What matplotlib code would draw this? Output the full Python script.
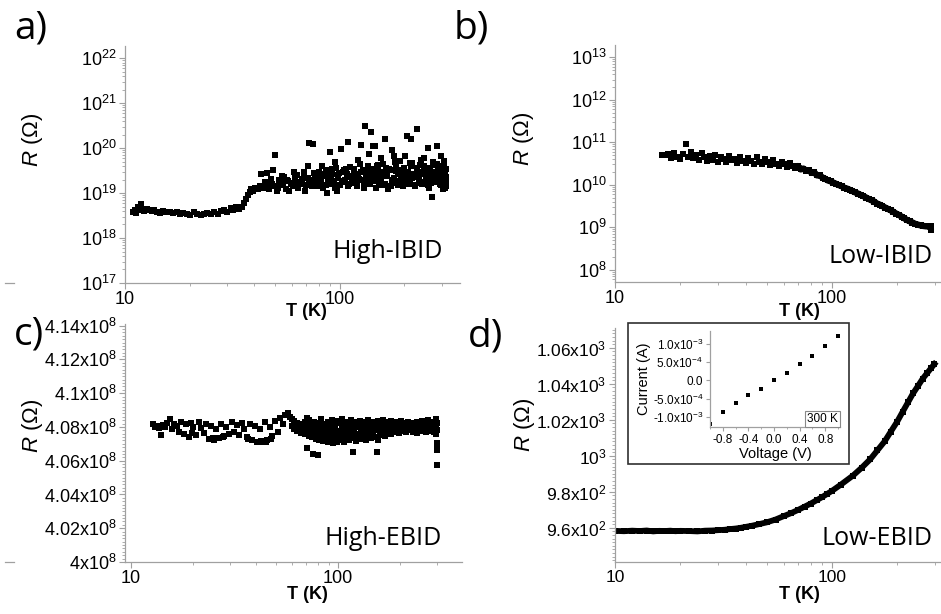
import matplotlib
matplotlib.use("Agg")
import matplotlib.pyplot as plt
from matplotlib.ticker import LogLocator, MultipleLocator, NullFormatter
from matplotlib.patches import Rectangle
from matplotlib.lines import Line2D
import numpy as np

plt.rcParams['font.family'] = ['Liberation Sans', 'DejaVu Sans']
plt.rcParams['mathtext.fontset'] = 'custom'
plt.rcParams['mathtext.rm'] = 'Liberation Sans'
plt.rcParams['mathtext.it'] = 'Liberation Sans:italic'
plt.rcParams['mathtext.bf'] = 'Liberation Sans:bold'

# ---- a) High-IBID : T (K), R (Ohm)
T_a = [10.9, 11.1, 11.3, 11.5, 11.7, 11.9, 12.1, 12.3, 12.6, 12.9, 13.3, 13.7, 14.1, 14.6,
       15.1, 15.6, 16.2, 16.8, 17.4, 18.0, 18.7, 19.4, 20.1, 20.9, 21.7, 22.5, 23.3, 24.2,
       25.1, 26.0, 27.0, 28.0, 29.0, 30.0, 31.0, 32.0, 33.0, 34.0,
       35.0, 35.8, 36.5, 37.2, 38.0, 38.8, 39.5, 40.5, 41.5, 42.5,
       44, 45.5, 47, 48.5, 50, 51.5, 53, 54.5, 56, 57.5, 59, 60.5, 62, 64, 66, 68, 70, 72, 74,
       76, 78, 80, 82, 84, 86, 88, 90, 92, 94, 96, 98, 100, 103, 106, 109, 112, 115, 118, 121,
       124, 127, 130, 133, 136, 139, 142, 145, 148, 151, 154, 157, 160, 164, 168, 172, 176,
       180, 184, 188, 192, 196, 200, 205, 210, 215, 220, 225, 230, 235, 240, 245, 250, 255,
       260, 265, 270, 275, 280, 285, 290, 295, 300, 305, 310,
       43, 46, 49, 50, 52, 55, 58, 61, 63, 67, 69, 71, 72, 75, 77, 81, 83, 85, 87, 90, 91, 93,
       95, 97, 99, 101, 104, 107, 109, 110, 116, 119, 122, 125, 128, 131, 134, 137, 140, 143,
       146, 149, 152, 155, 158, 163, 165, 176, 178, 182, 186, 190, 194, 198, 202, 205, 207,
       212, 215, 217, 230, 232, 237, 242, 247, 252, 257, 262, 267, 272, 277, 283, 287, 292,
       297, 302, 307, 312, 309, 306, 303, 298,
       45, 48, 51, 54, 57, 60, 63, 65, 68, 71, 74, 77, 80, 83, 86, 89, 92, 95, 98, 102, 105,
       108, 111, 114, 117, 120, 123, 126, 129, 132, 135, 138, 141, 144, 147, 150, 153, 156,
       159, 162, 166, 170, 174, 178, 182, 186, 190, 194, 198, 203, 208, 213, 218, 223, 228,
       233, 238, 243, 248, 253, 258, 263, 268, 273, 278, 283, 288, 293, 298, 303, 308, 311,
       311, 311]
R_a = [3.7e18, 4.2e18, 3.6e18, 4.8e18, 4.1e18, 5.8e18, 4.5e18, 3.9e18, 4.4e18, 4.3e18,
       4.0e18, 4.3e18, 3.8e18, 3.6e18, 3.9e18, 3.7e18, 3.8e18, 3.6e18, 3.7e18, 3.5e18,
       3.6e18, 3.4e18, 3.3e18, 3.8e18, 3.4e18, 3.2e18, 3.5e18, 3.6e18, 3.4e18, 3.7e18,
       3.5e18, 3.9e18, 4.3e18, 3.8e18, 4.6e18, 4.2e18, 4.8e18, 4.4e18,
       5.0e18, 6.0e18, 7.5e18, 9.0e18, 1.05e19, 1.2e19, 1.1e19, 1.3e19, 1.25e19, 1.4e19,
       1.3e19, 1.5e19, 1.2e19, 1.6e19, 1.4e19, 1.3e19, 1.7e19, 1.5e19, 1.2e19, 1.9e19,
       1.6e19, 1.4e19, 2.2e19, 1.3e19, 1.8e19, 2.5e19, 1.5e19, 2.0e19, 1.7e19, 2.8e19,
       1.4e19, 2.3e19, 1.9e19, 1.3e19, 3.2e19, 2.1e19, 1.6e19, 2.6e19, 1.8e19, 3.6e19,
       2.2e19, 1.5e19, 2.9e19, 2.0e19, 1.4e19, 3.8e19, 2.4e19, 1.7e19, 2.7e19, 4.5e19,
       2.0e19, 1.3e19, 3.1e19, 2.3e19, 1.6e19, 3.5e19, 2.6e19, 1.9e19, 4.2e19, 2.2e19,
       1.5e19, 3.0e19, 2.4e19, 1.2e19, 3.3e19, 2.0e19, 4.8e19, 1.7e19, 2.9e19, 2.2e19,
       1.4e19, 3.7e19, 2.5e19, 1.9e19, 4.0e19, 2.7e19, 1.5e19, 3.2e19, 2.1e19, 5.5e19,
       1.8e19, 2.6e19, 3.6e19, 1.3e19, 2.3e19, 8.0e18, 3.0e19, 1.9e19, 4.4e19, 2.4e19,
       1.5e19, 3.3e19, 2.0e19, 2.7e19,
       2.6e19, 2.8e19, 3.2e19, 7.0e19, 2.0e19, 2.3e19, 1.1e19, 3.0e19, 1.7e19, 2.1e19,
       1.1e19, 4.0e19, 1.3e20, 1.25e20, 2.5e19, 1.6e19, 3.9e19, 2.7e19, 1.0e19, 8.3e19,
       2.4e19, 1.9e19, 4.8e19, 1.1e19, 2.8e19, 9.5e19, 1.8e19, 3.4e19, 1.4e20, 2.3e19,
       2.9e19, 1.8e19, 5.5e19, 1.2e20, 3.3e19, 3.1e20, 2.5e19, 7.5e19, 2.3e20, 1.1e20,
       1.1e20, 3.9e19, 1.7e19, 6.0e19, 2.8e19, 1.6e20, 3.7e19, 9.0e19, 6.5e19, 3.1e19,
       1.5e19, 5.2e19, 2.7e19, 1.8e19, 6.8e19, 1.9e20, 3.0e19, 1.6e19, 1.6e20, 4.6e19,
       2.6e20, 2.3e19, 4.2e19, 1.6e19, 6.0e19, 2.1e19, 1.0e20, 3.1e19, 1.7e19, 5.0e19,
       2.4e19, 1.1e20, 3.0e19, 1.6e19, 6.5e19, 2.2e19, 3.9e19, 1.8e19, 1.3e19, 5.2e19,
       1.2e19, 2.5e19,
       1.8e19, 2.1e19, 1.1e19, 2.4e19, 2.0e19, 1.7e19, 2.5e19, 1.6e19, 2.9e19, 2.2e19,
       1.4e19, 2.0e19, 3.0e19, 2.4e19, 1.5e19, 2.3e19, 3.4e19, 1.3e19, 2.5e19, 1.9e19,
       3.2e19, 2.6e19, 1.6e19, 2.2e19, 3.5e19, 1.4e19, 2.1e19, 3.0e19, 1.7e19, 2.4e19,
       4.0e19, 1.8e19, 2.8e19, 2.1e19, 1.3e19, 3.4e19, 2.5e19, 2.0e19, 4.4e19, 1.6e19,
       2.6e19, 3.5e19, 1.4e19, 2.2e19, 4.1e19, 2.7e19, 1.9e19, 3.3e19, 2.4e19, 1.6e19,
       2.9e19, 4.6e19, 2.2e19, 1.4e19, 3.6e19, 2.6e19, 1.7e19, 2.9e19, 4.0e19, 2.2e19,
       1.5e19, 3.3e19, 2.5e19, 4.3e19, 1.8e19, 2.7e19, 3.5e19, 2.1e19, 4.0e19, 2.8e19,
       1.7e19, 2.3e19, 3.5e19, 1.4e19]

# ---- b) Low-IBID
T_b = [16.4, 17.0, 17.6, 18.2, 18.8, 19.4, 20.0, 20.6, 21.2, 21.8, 22.4, 23.0, 23.7, 24.4,
       25.1, 25.8, 26.6, 27.4, 28.2, 29.0, 29.9, 30.8, 31.7, 32.6, 33.6, 34.6, 35.6, 36.7,
       37.8, 38.9, 40.0, 41.2, 42.4, 43.7, 45.0, 46.3, 47.7, 49.1, 50.6, 52.1, 53.7, 55.3,
       57.0, 58.7, 60.4, 62.2, 64.0, 65.9,
       67.8, 69.8, 71.8, 73.9, 76.1, 78.3, 80.6, 83.0, 85.4, 87.9, 90.5, 93.1, 95.9, 98.7,
       101.6, 104.5, 107.6, 110.8, 114.0, 117.4, 120.8, 124.4, 128.0, 131.8, 135.7, 139.6,
       143.7, 148.0, 152.3, 156.8, 161.4, 166.1, 171.0, 176.0, 181.2, 186.5, 192.0, 197.6,
       203.4, 209.4, 215.5, 221.9, 228.4, 235.1, 242.0, 249.1, 256.4, 263.9, 271.7, 279.6,
       285.0, 286.0]
R_b = [5.1e10, 5.0e10, 5.4e10, 4.2e10, 5.6e10, 4.6e10, 4.1e10, 5.3e10, 8.9e10, 4.4e10,
       5.9e10, 4.3e10, 5.0e10, 3.9e10, 5.5e10, 4.5e10, 3.6e10, 4.8e10, 3.8e10, 4.9e10,
       3.5e10, 4.6e10, 4.0e10, 3.4e10, 4.7e10, 3.9e10, 4.1e10, 3.2e10, 4.5e10, 3.7e10,
       3.3e10, 4.3e10, 3.6e10, 3.0e10, 4.4e10, 3.5e10, 3.1e10, 4.0e10, 3.4e10, 2.9e10,
       3.8e10, 3.1e10, 2.8e10, 3.5e10, 3.0e10, 2.6e10, 3.2e10, 2.7e10,
       2.5e10, 2.75e10, 2.3e10, 2.4e10, 2.15e10, 2.2e10, 1.9e10, 1.95e10, 1.66e10, 1.66e10,
       1.48e10, 1.38e10, 1.26e10, 1.2e10, 1.12e10, 1.05e10, 9.8e9, 9.3e9, 8.5e9, 8.1e9,
       7.6e9, 7.1e9, 6.6e9, 6.2e9, 5.75e9, 5.4e9, 5.0e9, 4.6e9, 4.3e9, 4.0e9, 3.6e9, 3.4e9,
       3.15e9, 2.9e9, 2.7e9, 2.5e9, 2.3e9, 2.1e9, 1.95e9, 1.78e9, 1.62e9, 1.48e9, 1.38e9,
       1.29e9, 1.2e9, 1.15e9, 1.1e9, 1.07e9, 1.05e9, 1.05e9, 1.05e9, 8.7e8]

# ---- c) High-EBID (R in units of 1e8 Ohm)
T_c = [12.8, 13.1, 13.4, 13.7, 14.0, 14.3, 14.6, 15.0, 15.4, 15.8, 16.2, 16.6, 17.0, 17.5,
       18.0, 18.5, 19.0, 19.5, 20.0, 20.6, 21.2, 21.8, 22.4, 23.0, 23.7, 24.4, 25.1, 25.8,
       26.5, 27.3, 28.1, 28.9, 29.7, 30.6, 31.5, 32.4, 33.3, 34.3, 35.3, 36.3, 37.4, 38.5,
       39.6, 40.7, 41.9, 43.1, 44.3, 45.6, 46.9, 48.2, 49.6, 51.0, 52.5, 54.0, 55.5, 57.0,
       58.5,
       60, 61.5, 63, 64.5, 66, 67.5, 69, 70.5, 72, 73.5, 75, 76.5, 78, 79.5, 81, 83, 85, 87,
       89, 91, 93, 95, 97, 99, 101, 104, 107, 110, 113, 116, 119, 122, 125, 128, 131, 134,
       137, 140, 144, 148, 152, 156, 160, 164, 168, 172, 176, 181, 186, 191, 196, 201, 206,
       212, 218, 224, 230, 236, 242, 248, 254, 260, 266, 272, 278, 284, 290, 294, 297, 300,
       60, 61.5, 63, 64.5, 66, 67.5, 69, 70.5, 72, 73.5, 75, 76.5, 78, 79.5, 81, 83, 85, 87,
       89, 91, 93, 95, 97, 99, 101, 104, 107, 110, 113, 116, 119, 122, 125, 128, 131, 134,
       137, 140, 144, 148, 152, 156, 160, 164, 168, 172, 176, 181, 186, 191, 196, 201, 206,
       212, 218, 224, 230, 236, 242, 248, 254, 260, 266, 272, 278, 284, 290, 294, 297, 300,
       62, 65, 68, 71, 74, 77, 80, 84, 88, 92, 96, 100, 105, 110, 115, 120, 126, 132, 138,
       145, 152, 160, 168, 177, 186, 196, 206, 217, 228, 240, 252, 264, 276, 288, 298,
       63, 67, 71, 75, 79, 83, 87, 91, 95, 99, 103, 108, 113, 118, 123, 129, 135, 141, 147,
       154, 161, 169, 177, 185, 194, 203, 213, 223, 234, 245, 256, 268, 280, 292,
       19.8, 24.8, 27.8, 36.8, 42.5, 44.9, 47.5,
       71, 75.9, 80.3, 118.6, 155, 300, 300, 300, 299]
R_c = [4.0815, 4.0800, 4.0808, 4.0793, 4.0752, 4.0812, 4.0798, 4.0825, 4.0848, 4.0790,
       4.0820, 4.0805, 4.0772, 4.0830, 4.0760, 4.0815, 4.0742, 4.0822, 4.0800, 4.0752,
       4.0828, 4.0795, 4.0765, 4.0818, 4.0730, 4.0808, 4.0722, 4.0790, 4.0735, 4.0815,
       4.0748, 4.0800, 4.0760, 4.0830, 4.0770, 4.0812, 4.0752, 4.0825, 4.0785, 4.0740,
       4.0818, 4.0725, 4.0805, 4.0712, 4.0790, 4.0708, 4.0828, 4.0722, 4.0800, 4.0745,
       4.0838, 4.0772, 4.0855, 4.0820, 4.0872, 4.0885, 4.0860,
       4.0848, 4.0835, 4.0825, 4.0815, 4.0808, 4.0798, 4.0830, 4.0852, 4.0840, 4.0818,
       4.0805, 4.0832, 4.0812, 4.0800, 4.0825, 4.0845, 4.0815, 4.0802, 4.0828, 4.0810,
       4.0840, 4.0818, 4.0805, 4.0835, 4.0822, 4.0845, 4.0810, 4.0830, 4.0818, 4.0840,
       4.0808, 4.0828, 4.0815, 4.0838, 4.0812, 4.0832, 4.0820, 4.0842, 4.0815, 4.0828,
       4.0808, 4.0835, 4.0820, 4.0840, 4.0812, 4.0830, 4.0818, 4.0838, 4.0810, 4.0828,
       4.0815, 4.0835, 4.0820, 4.0805, 4.0832, 4.0815, 4.0825, 4.0810, 4.0830, 4.0818,
       4.0835, 4.0812, 4.0828, 4.0842, 4.0820, 4.0808, 4.0832, 4.0815, 4.0845, 4.0825,
       4.0805, 4.0790, 4.0775, 4.0782, 4.0765, 4.0772, 4.0758, 4.0760, 4.0748, 4.0765,
       4.0740, 4.0752, 4.0730, 4.0745, 4.0722, 4.0738, 4.0715, 4.0730, 4.0710, 4.0742,
       4.0718, 4.0705, 4.0735, 4.0712, 4.0748, 4.0725, 4.0710, 4.0738, 4.0720, 4.0752,
       4.0732, 4.0715, 4.0745, 4.0728, 4.0758, 4.0738, 4.0720, 4.0750, 4.0732, 4.0762,
       4.0742, 4.0725, 4.0755, 4.0770, 4.0748, 4.0765, 4.0780, 4.0758, 4.0772, 4.0785,
       4.0762, 4.0778, 4.0790, 4.0768, 4.0782, 4.0795, 4.0772, 4.0788, 4.0765, 4.0792,
       4.0775, 4.0785, 4.0770, 4.0795, 4.0778, 4.0788, 4.0772, 4.0790, 4.0760, 4.0780,
       4.0795, 4.0790, 4.0788, 4.0782, 4.0790, 4.0785, 4.0775, 4.0792, 4.0780, 4.0795,
       4.0788, 4.0778, 4.0798, 4.0785, 4.0792, 4.0780, 4.0800, 4.0788, 4.0795, 4.0785,
       4.0798, 4.0790, 4.0802, 4.0795, 4.0805, 4.0798, 4.0808, 4.0800, 4.0805, 4.0798,
       4.0810, 4.0802, 4.0808, 4.0800, 4.0805,
       4.0820, 4.0812, 4.0805, 4.0792, 4.0765, 4.0775, 4.0758, 4.0768, 4.0750, 4.0762,
       4.0770, 4.0755, 4.0768, 4.0775, 4.0760, 4.0772, 4.0765, 4.0778, 4.0770, 4.0782,
       4.0775, 4.0810, 4.0800, 4.0812, 4.0818, 4.0815, 4.0822, 4.0818, 4.0825, 4.0815,
       4.0822, 4.0818, 4.0825, 4.0815,
       4.0765, 4.0735, 4.0742, 4.0728, 4.0718, 4.0712, 4.0730,
       4.0675, 4.0638, 4.0632, 4.0652, 4.0650, 4.0690, 4.0665, 4.0576, 4.0705]

# ---- d) Low-EBID
T_d = [10, 11, 12, 13, 14, 15, 16, 17, 18, 19, 20, 22, 24, 26, 28, 30, 32, 34, 36, 38, 40,
       43, 46, 50, 55, 60, 65, 70, 75, 80, 85, 90, 95, 100, 110, 125, 137, 150, 162, 175,
       187, 200, 212, 225, 237, 250, 262, 275, 287, 297]
R_d = [958.3, 958.1, 958.4, 958.2, 958.5, 958.0, 958.3, 958.2, 958.4, 958.1, 958.3, 958.2,
       958.0, 958.4, 958.5, 958.7, 958.9, 959.3, 959.6, 960.0, 960.5, 961.2, 962.0, 963.0,
       964.6, 966.5, 968.2, 970.0, 971.8, 973.5, 975.3, 977.0, 978.8, 980.5, 984.0, 989.0,
       993.3, 998.0, 1003.0, 1008.0, 1013.5, 1019.0, 1024.5, 1030.0, 1034.8, 1039.0,
       1042.8, 1046.0, 1048.8, 1051.0]

# ---- d) inset I-V at 300 K
V_iv = [-1.0, -0.8, -0.6, -0.4, -0.2, 0.0, 0.2, 0.4, 0.6, 0.8, 1.0]
I_iv = [-1.19e-3, -0.86e-3, -0.62e-3, -0.41e-3, -0.22e-3, 0.0, 0.21e-3, 0.45e-3, 0.68e-3,
        0.95e-3, 1.20e-3]

c_yticks = [4.00e8, 4.02e8, 4.04e8, 4.06e8, 4.08e8, 4.10e8, 4.12e8, 4.14e8]
c_ylabels = ['4x10$^{8}$', '4.02x10$^{8}$', '4.04x10$^{8}$', '4.06x10$^{8}$',
             '4.08x10$^{8}$', '4.1x10$^{8}$', '4.12x10$^{8}$', '4.14x10$^{8}$']
d_yticks = [960, 980, 1000, 1020, 1040, 1060]
d_ylabels = ['9.6x10$^{2}$', '9.8x10$^{2}$', '10$^{3}$', '1.02x10$^{3}$',
             '1.04x10$^{3}$', '1.06x10$^{3}$']
iv_xticks = [-0.8, -0.4, 0.0, 0.4, 0.8]
iv_xlabels = ['-0.8', '-0.4', '0.0', '0.4', '0.8']
iv_yticks = [-1e-3, -5e-4, 0.0, 5e-4, 1e-3]
iv_ylabels = ['-1.0x10$^{-3}$', '-5.0x10$^{-4}$', '0.0', '5.0x10$^{-4}$', '1.0x10$^{-3}$']

GRAY = '#a0a0a0'
W, H = 941, 614


def box(l, t, r, b):
    return [l / W, 1 - b / H, (r - l) / W, (b - t) / H]


def style(ax, fs):
    for s in ['top', 'right']:
        ax.spines[s].set_visible(False)
    for s in ['left', 'bottom']:
        ax.spines[s].set_color(GRAY)
        ax.spines[s].set_linewidth(0.9)
    ax.tick_params(which='both', direction='out', color=GRAY, labelsize=fs, pad=2)
    ax.tick_params(which='major', length=4, width=0.8)
    ax.tick_params(which='minor', length=2, width=0.6)


def logx(ax, lo, hi):
    ax.set_xscale('log')
    ax.set_xlim(lo, hi)
    ax.set_xticks([10, 100], ['10', '100'])
    ax.xaxis.set_minor_locator(LogLocator(base=10, subs=range(2, 10)))
    ax.xaxis.set_minor_formatter(NullFormatter())


fig = plt.figure(figsize=(W / 100, H / 100), dpi=100)

ax_a = fig.add_axes(box(125, 46, 460, 283))
ax_b = fig.add_axes(box(615, 45, 940, 282))
ax_c = fig.add_axes(box(125, 324, 462, 562))
ax_d = fig.add_axes(box(615, 328, 940, 562))

mk = dict(ls='none', marker='s', ms=4.6, color='black', mew=0)

# a
ax_a.plot(T_a, R_a, **mk)
logx(ax_a, 10, 363)
ax_a.set_yscale('log')
ax_a.set_ylim(1e17, 10 ** 22.27)
ax_a.yaxis.set_major_locator(LogLocator(base=10, numticks=10))
ax_a.yaxis.set_minor_locator(LogLocator(base=10, subs=range(2, 10), numticks=20))
ax_a.yaxis.set_minor_formatter(NullFormatter())
style(ax_a, 13)

# b
T_b_arr, R_b_arr = np.array(T_b), np.array(R_b)
tail = T_b_arr >= 66
ax_b.plot(T_b_arr[tail], R_b_arr[tail], '-', color='black', lw=4.6, solid_capstyle='butt')
ax_b.plot(T_b, R_b, **mk)
logx(ax_b, 10, 315)
ax_b.set_yscale('log')
ax_b.set_ylim(10 ** 7.71, 10 ** 13.29)
ax_b.yaxis.set_major_locator(LogLocator(base=10, numticks=10))
ax_b.yaxis.set_minor_locator(LogLocator(base=10, subs=range(2, 10), numticks=20))
ax_b.yaxis.set_minor_formatter(NullFormatter())
style(ax_b, 13)

# c
ax_c.plot(T_c, np.array(R_c) * 1e8, **mk)
logx(ax_c, 9.35, 397)
ax_c.set_ylim(4.0e8, 4.141e8)
ax_c.set_yticks(c_yticks, c_ylabels)
ax_c.yaxis.set_minor_locator(MultipleLocator(0.002e8))
style(ax_c, 13)

# d
ax_d.plot(T_d, R_d, '-', color='black', lw=4.2)
ax_d.plot(T_d, R_d, ls='none', marker='s', ms=4, color='black', mew=0)
logx(ax_d, 10, 315)
ax_d.set_ylim(941, 1071)
ax_d.set_yticks(d_yticks, d_ylabels)
ax_d.yaxis.set_minor_locator(MultipleLocator(2))
style(ax_d, 12.5)

# axis titles and sample names
for ax, (xl, yl), (xr, yr), (sx, sy), name in [
        (ax_a, (0.543, -0.119), (-0.275, 0.606), (0.949, 0.106), 'High-IBID'),
        (ax_b, (0.569, -0.123), (-0.283, 0.604), (0.978, 0.081), 'Low-IBID'),
        (ax_c, (0.540, -0.138), (-0.273, 0.570), (0.941, 0.071), 'High-EBID'),
        (ax_d, (0.569, -0.141), (-0.277, 0.585), (0.978, 0.073), 'Low-EBID')]:
    ax.text(xl, yl, 'T (K)', transform=ax.transAxes, ha='center', va='center',
            fontsize=13, fontweight='bold')
    ax.text(xr, yr, '$R$ (\u03a9)', transform=ax.transAxes, ha='center', va='center',
            rotation=90, fontsize=16)
    ax.text(sx, sy, name, transform=ax.transAxes, ha='right', va='baseline',
            fontsize=18, family='Open Sans')

# inset
axi = fig.add_axes(box(710, 331, 840, 427))
axi.plot(V_iv, I_iv, ls='none', marker='s', ms=2.4, color='black', mew=0)
axi.set_xlim(-1.0, 1.03)
axi.set_ylim(-1.27e-3, 1.35e-3)
axi.set_xticks(iv_xticks, iv_xlabels)
axi.set_yticks(iv_yticks, iv_ylabels)
axi.xaxis.set_minor_locator(MultipleLocator(0.2))
style(axi, 8.5)
axi.tick_params(which='major', length=3)
axi.tick_params(which='minor', length=1.5)
axi.set_xlabel('Voltage (V)', fontsize=10.5, labelpad=1)
axi.set_ylabel('Current (A)', fontsize=10.5, labelpad=1)
axi.text(0.985, 0.02, '300 K', transform=axi.transAxes, ha='right', va='bottom', fontsize=8.5,
         bbox=dict(boxstyle='square,pad=0.15', fc='white', ec='#888888', lw=0.8))
fig.patches.append(Rectangle((628 / W, 1 - 464 / H), 221 / W, 141 / H, transform=fig.transFigure,
                             fill=False, ec='#303030', lw=1.2, figure=fig))

# panel letters
for x, y, s in [(14, 28, 'a)'), (454, 28, 'b)'), (14, 334, 'c)'), (468, 337, 'd)')]:
    fig.text(x / W, 1 - y / H, s, ha='left', va='center', fontsize=28, family='Open Sans')

# stray axis stubs at the left margin
for y in (283, 562):
    fig.lines.append(Line2D([5 / W, 14 / W], [1 - y / H] * 2, transform=fig.transFigure,
                            color=GRAY, lw=0.9, figure=fig))

fig.savefig('out.png', dpi=100)
